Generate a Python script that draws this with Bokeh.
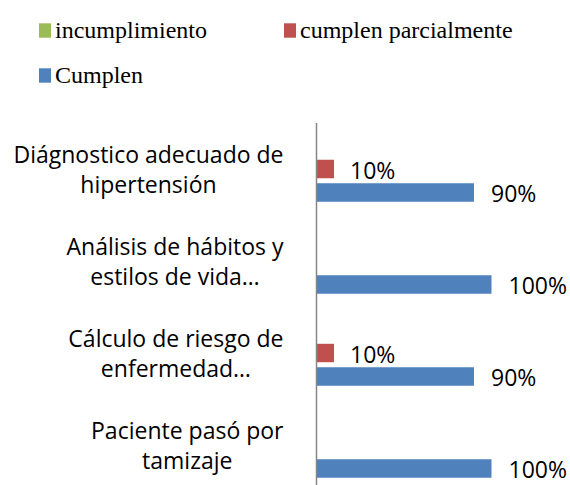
from bokeh.plotting import figure
from bokeh.models import Range1d, Legend, LegendItem, ColumnDataSource
from bokeh.core.properties import value
from bokeh.embed import file_html
from bokeh.resources import INLINE

# ---- data ----
categories = [
    "Diágnostico adecuado de\nhipertensión",
    "Análisis de hábitos y\nestilos de vida…",
    "Cálculo de riesgo de\nenfermedad…",
    "Paciente pasó por\ntamizaje",
]
series_names = ["incumplimiento", "cumplen parcialmente", "Cumplen"]
incumplimiento = [0, 0, 0, 0]
cumplen_parcialmente = [10, 0, 10, 0]
cumplen = [90, 100, 90, 100]

# ---- layout / style ----
W, H = 570, 485
axis_px = 316           # x pixel of the value 0
px_per_unit = 1.75      # pixels per percentage point
band_px = 92
first_center_px = 168.5
colors = ["#9BBB59", "#C0504D", "#4F81BD"]
offsets = [-0.255, 0.0, 0.255]
bar_h = 0.2

p = figure(width=W, height=H, output_backend="svg", toolbar_location=None,
           x_axis_location=None, y_axis_location=None, min_border=0,
           x_range=Range1d(-axis_px / px_per_unit, (W - axis_px) / px_per_unit),
           y_range=Range1d((H - first_center_px) / band_px, -first_center_px / band_px))
p.outline_line_color = None
p.grid.visible = False
p.background_fill_color = "white"

idx = list(range(len(categories)))
renderers = []
for vals, col, off in zip([incumplimiento, cumplen_parcialmente, cumplen], colors, offsets):
    src = ColumnDataSource(dict(y=[i + off for i in idx], right=vals))
    r = p.hbar(y="y", left=0, right="right", height=bar_h, source=src,
               fill_color=col, line_color=None)
    renderers.append(r)

# axis line
p.segment(x0=[0], y0=[-0.5], x1=[0], y1=[len(categories) - 0.5],
          line_color="#868686", line_width=1.5)

# category labels
p.text(x=[0] * len(categories), y=idx, text=categories,
       anchor="center_right", text_align="center", x_offset=-33,
       text_font=value("Open Sans"), text_font_size="23px",
       text_line_height=0.96, text_color="black")

# value labels
for vals, off, xo in [(cumplen_parcialmente, offsets[1], 16), (cumplen, offsets[2], 17)]:
    xs = [v for v in vals if v > 0]
    ys = [i + off for i, v in zip(idx, vals) if v > 0]
    ts = [f"{v}%" for v in vals if v > 0]
    p.text(x=xs, y=ys, text=ts, x_offset=xo, y_offset=1,
           text_align="left", text_baseline="middle",
           text_font=value("Open Sans"), text_font_size="23px", text_color="black")

common = dict(orientation="horizontal", glyph_width=15, glyph_height=18,
              label_standoff=3, padding=0, margin=0, border_line_color=None,
              background_fill_alpha=0, label_text_font="Liberation Serif",
              label_text_font_size="24px", label_height=28, label_text_color="black")
leg1 = Legend(items=[LegendItem(label=series_names[0], renderers=[renderers[0]]),
                     LegendItem(label=series_names[1], renderers=[renderers[1]])],
              location=(37, H - 16 - 28), label_width=222, spacing=5, **common)
leg2 = Legend(items=[LegendItem(label=series_names[2], renderers=[renderers[2]])],
              location=(37, H - 61 - 28), **common)
p.add_layout(leg1)
p.add_layout(leg2)

open("out.html", "w").write(file_html(p, INLINE))
